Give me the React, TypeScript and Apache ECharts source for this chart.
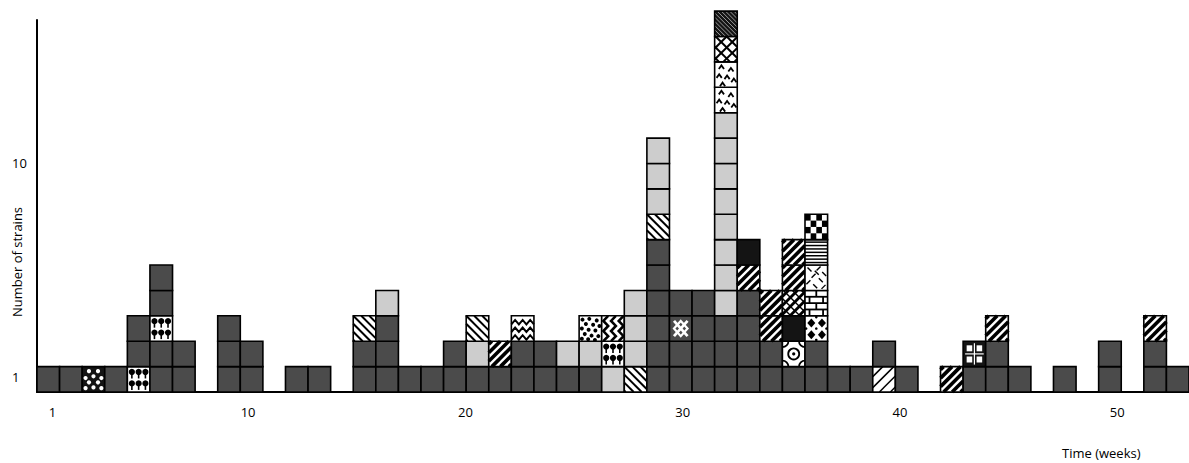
import React, { useEffect, useRef } from 'react';
import * as echarts from 'echarts';

// ---- data ----
const weeks: string[] = [
  '1','2','3','4','5','6','7','8','9','10','11','12','13','14','15','16','17','18','19','20',
  '21','22','23','24','25','26','27','28','29','30','31','32','33','34','35','36','37','38','39','40',
  '41','42','43','44','45','46','47','48','49','50','51',
];

// strain type per square, bottom to top, for each week
const strainStacks: string[][] = [
  ['D'], ['D'], ['BD'], ['D'], ['TR', 'D', 'D'], ['D', 'D', 'TR', 'D', 'D'], ['D', 'D'], [],
  ['D', 'D', 'D'], ['D', 'D'], [], ['D'], ['D'], [],
  ['D', 'D', 'HB'], ['D', 'D', 'D', 'L'], ['D'], ['D'], ['D', 'D'], ['D', 'L', 'HB'],
  ['D', 'FB'], ['D', 'D', 'WV'], ['D', 'D'], ['D', 'L'], ['D', 'L', 'SP'], ['L', 'TR', 'WV2'],
  ['HB', 'L', 'L', 'L'],
  ['D', 'D', 'D', 'D', 'D', 'D', 'HB', 'L', 'L', 'L'],
  ['D', 'D', 'KN', 'D'],
  ['D', 'D', 'D', 'D'],
  ['D', 'D', 'D', 'L', 'L', 'L', 'L', 'L', 'L', 'L', 'L', 'TRI', 'TRI', 'XH', 'DDG'],
  ['D', 'D', 'D', 'D', 'FB', 'K'],
  ['D', 'D', 'FB', 'FB'],
  ['D', 'CI', 'K', 'ZZ', 'FB', 'FB'],
  ['D', 'D', 'DM', 'BR', 'RD', 'HL', 'CK'],
  ['D'], ['D'], ['FT', 'D'], ['D'], [],
  ['FB'], ['D', 'GR'], ['D', 'D', 'FB'], ['D'], [], ['D'], [], ['D', 'D'], [], ['D', 'D', 'FB'], ['D'],
];

const patternKeys = ['D', 'L', 'K', 'BD', 'TR', 'HB', 'FB', 'FT', 'DDG', 'XH', 'TRI', 'CK', 'HL', 'RD', 'BR', 'DM', 'CI', 'ZZ', 'GR', 'KN', 'WV', 'WV2', 'SP'];

const xTickLabels = [1, 10, 20, 30, 40, 50];
const yTickLabels = ['1', '10'];

// ---- styles ----
const DARK = '#4b4b4b';
const LIGHT = '#cdcdcd';
const BLACK = '#141414';
const WHITE = '#ffffff';
const FONT = 'Open Sans';

function clipSeg(x1: number, y1: number, x2: number, y2: number, w: number, h: number) {
  let t0 = 0, t1 = 1;
  const dx = x2 - x1, dy = y2 - y1;
  const p = [-dx, dx, -dy, dy];
  const q = [x1, w - x1, y1, h - y1];
  for (let i = 0; i < 4; i++) {
    if (p[i] === 0) {
      if (q[i] < 0) return null;
    } else {
      const t = q[i] / p[i];
      if (p[i] < 0) {
        if (t > t1) return null;
        if (t > t0) t0 = t;
      } else {
        if (t < t0) return null;
        if (t < t1) t1 = t;
      }
    }
  }
  return [x1 + t0 * dx, y1 + t0 * dy, x1 + t1 * dx, y1 + t1 * dy];
}

function line(x1: number, y1: number, x2: number, y2: number, stroke: string, lw: number) {
  return { type: 'line', silent: true, shape: { x1, y1, x2, y2 }, style: { stroke, lineWidth: lw } };
}

function hatch(w: number, h: number, dir: number, spacing: number, lw: number, color = '#000', offset = 0) {
  const out: any[] = [];
  const L = w + h;
  for (let c = -L + offset; c <= L; c += spacing) {
    const seg = dir > 0 ? clipSeg(c - L, -L, c + L, L, w, h) : clipSeg(c + L, -L, c - L, L, w, h);
    if (seg && Math.hypot(seg[2] - seg[0], seg[3] - seg[1]) > 1) {
      out.push(line(seg[0], seg[1], seg[2], seg[3], color, lw));
    }
  }
  return out;
}

function circle(cx: number, cy: number, r: number, fill: string) {
  return { type: 'circle', silent: true, shape: { cx, cy, r }, style: { fill } };
}

function rectEl(x: number, y: number, width: number, height: number, fill: string) {
  return { type: 'rect', silent: true, shape: { x, y, width, height }, style: { fill } };
}

function pattern(key: string, w: number, h: number): { bg: string; els: any[] } {
  const els: any[] = [];
  switch (key) {
    case 'D': return { bg: DARK, els };
    case 'L': return { bg: LIGHT, els };
    case 'K': return { bg: BLACK, els };
    case 'BD': {
      const pts = [[.3, .18], [.7, .18], [.5, .38], [.15, .45], [.85, .45], [.3, .62], [.7, .62], [.5, .82], [.15, .85], [.85, .85]];
      pts.forEach(([a, b]) => els.push(circle(a * w, b * h, 2.1, WHITE)));
      return { bg: BLACK, els };
    }
    case 'TR': {
      [.2, .5, .8].forEach((a) => [.27, .72].forEach((b) => {
        els.push(circle(a * w, b * h - 1.5, 3.1, '#000'));
        els.push(line(a * w, b * h, a * w, b * h + 5, '#000', 1.6));
      }));
      return { bg: WHITE, els };
    }
    case 'HB': return { bg: WHITE, els: hatch(w, h, 1, 8, 2) };
    case 'FB': return { bg: WHITE, els: hatch(w, h, -1, 8.5, 3.6) };
    case 'FT': return { bg: WHITE, els: hatch(w, h, -1, 11, 1.5, '#000', 3) };
    case 'DDG': return { bg: BLACK, els: hatch(w, h, 1, 4.2, 1, '#9a9a9a') };
    case 'XH': return { bg: WHITE, els: [...hatch(w, h, 1, 11, 2, '#000', 5), ...hatch(w, h, -1, 11, 2, '#000', 5)] };
    case 'TRI': {
      const pts = [[.3, .2], [.72, .3], [.2, .55], [.55, .6], [.85, .72], [.35, .88]];
      pts.forEach(([a, b]) => els.push({
        type: 'polyline', silent: true,
        shape: { points: [[a * w - 2.6, b * h + 2], [a * w, b * h - 1.6], [a * w + 2.6, b * h + 2]] },
        style: { stroke: '#000', lineWidth: 1.8, fill: 'none' },
      }));
      return { bg: WHITE, els };
    }
    case 'CK': {
      for (let i = 0; i < 4; i++) for (let j = 0; j < 4; j++) {
        if ((i + j) % 2 === 0) els.push(rectEl(i * w / 4, j * h / 4, w / 4, h / 4, '#000'));
      }
      return { bg: WHITE, els };
    }
    case 'HL': {
      for (let y = 2.5; y < h; y += 3.4) els.push(line(0, y, w, y, '#000', 1.5));
      return { bg: WHITE, els };
    }
    case 'RD': {
      const pts = [[.2, .18, 1], [.6, .14, -1], [.85, .35, 1], [.38, .42, -1], [.7, .6, 1], [.15, .68, -1], [.45, .84, 1], [.82, .86, -1], [.52, .3, 1]];
      pts.forEach(([a, b, d]) => els.push(line(a * w - 2, b * h - 2 * d, a * w + 2, b * h + 2 * d, '#000', 1.4)));
      return { bg: WHITE, els };
    }
    case 'BR': {
      [.25, .5, .75].forEach((b) => els.push(line(0, b * h, w, b * h, '#000', 1.8)));
      [[.5, 0, .25], [.2, .25, .5], [.8, .25, .5], [.5, .5, .75], [.2, .75, 1], [.8, .75, 1]].forEach(([a, b0, b1]) =>
        els.push(line(a * w, b0 * h, a * w, b1 * h, '#000', 1.8)));
      return { bg: WHITE, els };
    }
    case 'DM': {
      [[.28, .28], [.75, .28], [.28, .75], [.75, .75]].forEach(([a, b]) => els.push({
        type: 'polygon', silent: true,
        shape: { points: [[a * w, b * h - 4.5], [a * w + 4, b * h], [a * w, b * h + 4.5], [a * w - 4, b * h]] },
        style: { fill: '#000' },
      }));
      [[.5, .5], [.05, .5], [.95, .5], [.5, .05], [.5, .95]].forEach(([a, b]) => els.push(circle(a * w, b * h, 1.3, '#000')));
      return { bg: WHITE, els };
    }
    case 'CI': {
      els.push({ type: 'circle', silent: true, shape: { cx: w / 2, cy: h / 2, r: 5.5 }, style: { fill: 'none', stroke: '#000', lineWidth: 1.8 } });
      const corners = [[0, 0, 0], [w, 0, Math.PI / 2], [w, h, Math.PI], [0, h, Math.PI * 1.5]];
      corners.forEach(([cx, cy, a0]) => els.push({
        type: 'arc', silent: true,
        shape: { cx, cy, r: 6, startAngle: a0, endAngle: a0 + Math.PI / 2 },
        style: { stroke: '#000', lineWidth: 1.8, fill: 'none' },
      }));
      els.push(circle(w / 2, h / 2, 1.6, '#000'));
      return { bg: WHITE, els };
    }
    case 'ZZ': return { bg: WHITE, els: [...hatch(w, h, -1, 9, 2.8), ...hatch(w, h, 1, 9, 1.4, '#000', 4)] };
    case 'GR': {
      els.push(line(w / 2, 2, w / 2, h - 2, WHITE, 1.2));
      els.push(line(2, h / 2, w - 2, h / 2, WHITE, 1.2));
      [[.28, .28], [.72, .28], [.28, .72], [.72, .72]].forEach(([a, b]) => els.push(rectEl(a * w - 2.8, b * h - 3, 5.6, 6, WHITE)));
      return { bg: BLACK, els };
    }
    case 'KN': {
      // interlaced knot: white X with a diamond ring around the crossing
      els.push(line(.2 * w, .2 * h, .8 * w, .8 * h, WHITE, 2.8));
      els.push(line(.8 * w, .2 * h, .2 * w, .8 * h, WHITE, 2.8));
      els.push({
        type: 'polygon', silent: true,
        shape: { points: [[.5 * w, .2 * h], [.8 * w, .5 * h], [.5 * w, .8 * h], [.2 * w, .5 * h]] },
        style: { fill: 'none', stroke: WHITE, lineWidth: 2.2 },
      });
      return { bg: DARK, els };
    }
    case 'WV': {
      [.25, .55, .85].forEach((b) => {
        const pts: number[][] = [];
        let k = 0;
        for (let x = 0; x <= w + 0.1; x += w / 6) { pts.push([x, b * h + (k % 2 ? -2.2 : 2.2)]); k++; }
        els.push({ type: 'polyline', silent: true, shape: { points: pts }, style: { stroke: '#000', lineWidth: 2, fill: 'none' } });
      });
      return { bg: WHITE, els };
    }
    case 'WV2': {
      [.18, .52, .86].forEach((a) => {
        const pts: number[][] = [];
        let k = 0;
        for (let y = 0; y <= h + 0.1; y += h / 5) { pts.push([a * w + (k % 2 ? -2.4 : 2.4), y]); k++; }
        els.push({ type: 'polyline', silent: true, shape: { points: pts }, style: { stroke: '#000', lineWidth: 2.6, fill: 'none' } });
      });
      return { bg: WHITE, els };
    }
    case 'SP': {
      const pts = [[.15, .15], [.45, .12], [.78, .18], [.3, .32], [.62, .35], [.9, .4], [.12, .5], [.42, .55], [.72, .58], [.25, .72], [.55, .78], [.85, .8], [.12, .9], [.4, .92], [.7, .95]];
      pts.forEach(([a, b]) => els.push(circle(a * w, b * h, 2, '#000')));
      return { bg: WHITE, els };
    }
    default: return { bg: DARK, els };
  }
}

const cellData: number[][] = [];
strainStacks.forEach((stack, i) => stack.forEach((key, j) => cellData.push([i, j, patternKeys.indexOf(key)])));

export default function App() {
  const ref = useRef<HTMLDivElement>(null);
  useEffect(() => {
    if (!ref.current) return;
    const chart = echarts.init(ref.current, undefined, { renderer: 'svg' });
    chart.setOption({
      animation: false,
      backgroundColor: '#fff',
      grid: { left: 37, right: 0, top: 20, bottom: 71, containLabel: false },
      xAxis: [
        {
          type: 'category',
          data: weeks,
          boundaryGap: true,
          axisLine: { show: true, lineStyle: { color: '#000', width: 2 } },
          axisTick: { show: false },
          axisLabel: { show: false },
          splitLine: { show: false },
        },
        {
          type: 'value',
          position: 'bottom',
          min: 0.285,
          max: 53.3,
          axisLine: { show: false },
          axisTick: { show: false },
          splitLine: { show: false },
          axisLabel: {
            customValues: xTickLabels,
            margin: 13,
            color: '#000',
            fontSize: 13,
            fontFamily: FONT,
            formatter: (v: number) => String(v),
          },
        },
      ],
      yAxis: {
        type: 'value',
        min: 0,
        max: 14.65,
        axisLine: { show: true, lineStyle: { color: '#000', width: 2 } },
        axisTick: { show: false },
        splitLine: { show: false },
        axisLabel: {
          customValues: [0.6, 9],
          align: 'left',
          margin: 25,
          color: '#000',
          fontSize: 13,
          fontFamily: FONT,
          formatter: (v: number) => (v < 5 ? yTickLabels[0] : yTickLabels[1]),
        },
      },
      graphic: [
        {
          type: 'text',
          x: 17,
          y: 262,
          rotation: Math.PI / 2,
          style: { text: 'Number of strains', fontSize: 13, fontFamily: FONT, fill: '#000', align: 'center', verticalAlign: 'middle' },
        },
        {
          type: 'text',
          x: 1062,
          y: 453,
          style: { text: 'Time (weeks)', fontSize: 13, fontFamily: FONT, fill: '#000', align: 'left', verticalAlign: 'middle' },
        },
      ],
      series: [
        {
          type: 'custom',
          xAxisIndex: 0,
          yAxisIndex: 0,
          clip: false,
          data: cellData,
          encode: { x: 0, y: 1 },
          renderItem: (params: any, api: any) => {
            const c = api.value(0);
            const r = api.value(1);
            const key = patternKeys[api.value(2)];
            const [cx, yb] = api.coord([c, r]);
            const [, yt] = api.coord([c, r + 1]);
            const bw = api.size([1, 0])[0];
            const w = bw;
            const h = yb - yt;
            const p = pattern(key, w, h);
            return {
              type: 'group',
              x: cx - bw / 2,
              y: yt,
              children: [
                { type: 'rect', shape: { x: 0, y: 0, width: w, height: h }, style: { fill: p.bg } },
                ...p.els,
                { type: 'rect', shape: { x: 0, y: 0, width: w, height: h }, style: { fill: 'none', stroke: '#000', lineWidth: 1.6 } },
              ],
            };
          },
        },
      ],
    });
    return () => chart.dispose();
  }, []);
  return <div ref={ref} style={{ position: 'fixed', left: 0, top: 0, width: 1189, height: 463 }} />;
}
